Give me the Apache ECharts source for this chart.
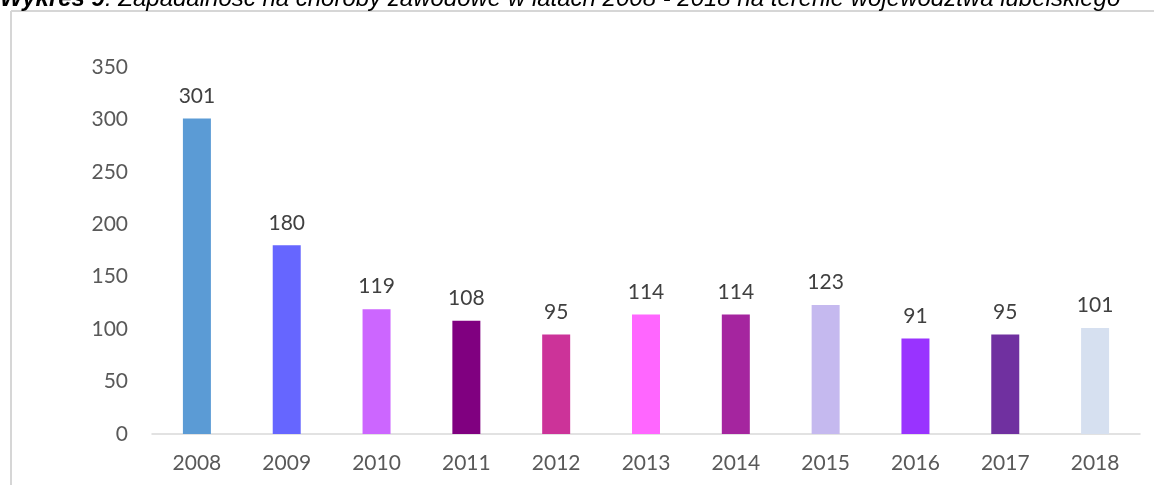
<!DOCTYPE html>
<html>
<head>
<meta charset="utf-8">
<script src="https://cdn.jsdelivr.net/npm/echarts@6/dist/echarts.min.js"></script>
<style>
  html, body { margin: 0; padding: 0; background: #ffffff; }
  #chart { width: 1154px; height: 485px; }
</style>
</head>
<body>
<div id="chart"></div>
<script>
// Zapadalność na choroby zawodowe, woj. lubelskie 2008-2018
const years = ['2008', '2009', '2010', '2011', '2012', '2013', '2014', '2015', '2016', '2017', '2018'];
const cases = [301, 180, 119, 108, 95, 114, 114, 123, 91, 95, 101];
const barColors = ['#5B9BD5', '#6666FF', '#CC66FF', '#800080', '#CC3399', '#FF66FF',
                   '#A5259F', '#C5B9EF', '#9933FF', '#7030A0', '#D6E0F0'];
const yTicks = { min: 0, max: 350, interval: 50 };

const labelFont = 'Lato, "Open Sans", sans-serif';
const titleFont = '"Liberation Sans", Arial, sans-serif';

const chart = echarts.init(document.getElementById('chart'), null, { renderer: 'canvas' });

chart.setOption({
  animation: false,
  backgroundColor: '#ffffff',
  title: {
    text: '{b|Wykres 9}{i|. Zapadalność na choroby zawodowe w latach 2008 - 2018 na terenie województwa lubelskiego}',
    left: 0,
    top: -13,
    padding: 0,
    textStyle: {
      fontWeight: 'normal',
      rich: {
        b: { fontFamily: titleFont, fontSize: 24, fontStyle: 'italic', fontWeight: 'bold', color: '#000000' },
        i: { fontFamily: titleFont, fontSize: 24, fontStyle: 'italic', fontWeight: 'normal', color: '#000000' }
      }
    }
  },
  graphic: [
    // frame around the plot panel
    { type: 'line', shape: { x1: 11, y1: 11, x2: 11, y2: 485 }, style: { stroke: '#d6d6d6', lineWidth: 2 } },
    { type: 'line', shape: { x1: 11, y1: 11, x2: 1154, y2: 11 }, style: { stroke: '#d6d6d6', lineWidth: 2 } }
  ],
  grid: { left: 152, right: 14, top: 67, bottom: 51, containLabel: false },
  xAxis: {
    type: 'category',
    data: years,
    axisLine: { show: true, lineStyle: { color: '#d9d9d9', width: 1.5 } },
    axisTick: { show: false },
    axisLabel: { color: '#595959', fontSize: 21, fontFamily: labelFont, margin: 19 }
  },
  yAxis: {
    type: 'value',
    min: yTicks.min,
    max: yTicks.max,
    interval: yTicks.interval,
    axisLine: { show: false },
    axisTick: { show: false },
    splitLine: { show: false },
    axisLabel: { color: '#595959', fontSize: 21, fontFamily: labelFont, margin: 24 }
  },
  series: [{
    type: 'bar',
    data: cases.map((v, i) => ({ value: v, itemStyle: { color: barColors[i] } })),
    barWidth: 28,
    label: {
      show: true,
      position: 'top',
      distance: 12,
      color: '#404040',
      fontSize: 21,
      fontFamily: labelFont
    }
  }]
});
</script>
</body>
</html>
